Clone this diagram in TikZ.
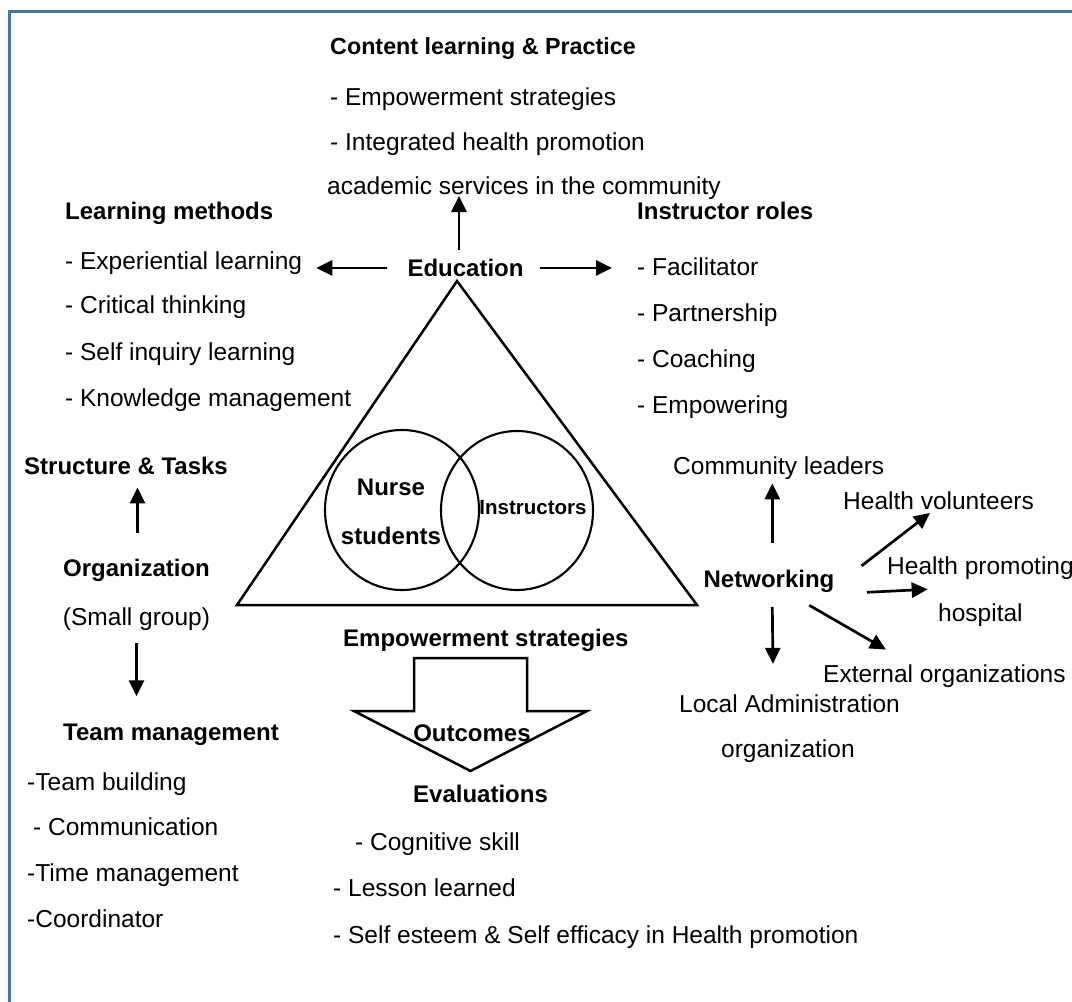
\documentclass[tikz,border=0pt]{standalone}
\usepackage{fontspec}
\setmainfont{Liberation Sans}
\usetikzlibrary{arrows.meta,calc}
\definecolor{framec}{HTML}{4672AA}
\begin{document}
\begin{tikzpicture}[x=1pt,y=-1pt,
  txt/.style={font=\fontsize{24.5}{28}\selectfont, inner sep=0pt, anchor=base west},
  btxt/.style={txt, font=\fontsize{24}{28}\selectfont\bfseries},
  arr/.style={line width=2.7pt, -{Triangle[length=16pt,width=15pt]}},
  shapeline/.style={line width=2.5pt, line join=miter}]
\useasboundingbox (0,0) rectangle (1072,1002);
\draw[framec, line width=3pt] (9,1002) -- (9,11) -- (1072,11);

% top content
\node[btxt, font=\fontsize{23.3}{28}\selectfont\bfseries] (cont1) at (330,54) {Content learning \& Practice};
\node[txt] (cont2) at (330,105) {- Empowerment strategies};
\node[txt] (cont3) at (330,150) {- Integrated health promotion};
\node[txt] (cont4) at (327,194) {academic services in the community};

% learning methods
\node[btxt] (lm0) at (65,219) {Learning methods};
\node[txt] (lm1) at (65,269) {- Experiential learning};
\node[txt] (lm2) at (65,313) {- Critical thinking};
\node[txt] (lm3) at (65,360) {- Self inquiry learning};
\node[txt] (lm4) at (65,406) {- Knowledge management};

% instructor roles
\node[btxt] (ir0) at (637,219) {Instructor roles};
\node[txt] (ir1) at (637,275) {- Facilitator};
\node[txt] (ir2) at (637,321) {- Partnership};
\node[txt] (ir3) at (637,367) {- Coaching};
\node[txt] (ir4) at (637,413) {- Empowering};

% education
\node[btxt, anchor=base] (edu) at (465.5,276.5) {Education};
\draw[arr] ([xshift=-6.5pt,yshift=9pt]edu.north) -- ([xshift=-6.5pt,yshift=-2pt]edu.north |- cont4.base);
\draw[arr] ([xshift=-20pt]edu.west) -- ([xshift=14pt]edu.west -| lm1.east);
\draw[arr] ([xshift=16pt]edu.east) -- ([xshift=-25pt]edu.east -| ir1.west);

% triangle and circles
\draw[shapeline] (457,281) -- (237,605) -- (697,605) -- cycle;
\draw[line width=2.1pt] (402,510) ellipse [x radius=77, y radius=80];
\draw[line width=2.1pt] (517,510.5) ellipse [x radius=76, y radius=79.5];
\node[btxt, anchor=base] (ns1) at (391,495.5) {Nurse};
\node[btxt, anchor=base] (ns2) at (391,544) {students};
\node[btxt, anchor=base, font=\fontsize{20.5}{24}\selectfont\bfseries] (ins) at (533,514) {Instructors};

% organization
\node[btxt] (st) at (24,474) {Structure \& Tasks};
\node[btxt, anchor=base] (org) at (136.5,576) {Organization};
\node[txt, anchor=base] (sg) at (136.5,625) {(Small group)};
\draw[arr] ([xshift=1pt,yshift=25pt]org.north) -- ([xshift=1pt,yshift=-13pt]org.north |- st.south);
\node[btxt] (tm0) at (63,740) {Team management};
\node[txt] (tm1) at (27,790) {-Team building};
\node[txt] (tm2) at (33,835) {- Communication};
\node[txt] (tm3) at (27,881.5) {-Time management};
\node[txt] (tm4) at (27,927) {-Coordinator};
\draw[arr] ([yshift=-13pt]sg.south) -- ([yshift=27pt]sg.south |- tm0.north);

% outcomes
\node[btxt] (es) at (343,646.5) {Empowerment strategies};
\draw[shapeline] (414,658) -- (527,658) -- (527,711) -- (587,711) -- (470.5,771) -- (354,711) -- (414,711) -- cycle;
\node[btxt, anchor=base] (out) at (472,741) {Outcomes};
\node[btxt] (ev) at (413,802) {Evaluations};
\node[txt] (ev1) at (355,850) {- Cognitive skill};
\node[txt] (ev2) at (333,896.5) {- Lesson learned};
\node[txt] (ev3) at (333,943) {- Self esteem \& Self efficacy in Health promotion};

% networking
\node[btxt, anchor=base] (net) at (769,587) {Networking};
\node[txt] (cl) at (673,474) {Community leaders};
\node[txt] (hv) at (843,509.5) {Health volunteers};
\node[txt] (hp1) at (887,574) {Health promoting};
\node[txt] (hp2) at (938,621) {hospital};
\node[txt] (ext) at (823,682.5) {External organizations};
\node[txt] (la1) at (679,712.5) {Local Administration};
\node[txt] (la2) at (721,757) {organization};

\draw[arr, shorten >=4pt] ([xshift=3.3pt,yshift=26pt]net.north) -- ([xshift=3.3pt]net.north |- cl.south);
\draw[arr] ([xshift=27pt,yshift=3.5pt]net.north east) -- ([xshift=87pt,yshift=-3pt]hv.south west);
\draw[arr] ([xshift=32.4pt]net.south east) -- ([xshift=40.7pt,yshift=-15.3pt]hp1.base west);
\draw[arr] ([xshift=40.3pt,yshift=-13pt]net.south) -- ([xshift=63pt,yshift=15pt]ext.north west);
\draw[arr, shorten >=30.7pt] ([xshift=3.3pt,yshift=-14.7pt]net.south) -- ([xshift=4.3pt]net.south |- la1.north);
\end{tikzpicture}
\end{document}
